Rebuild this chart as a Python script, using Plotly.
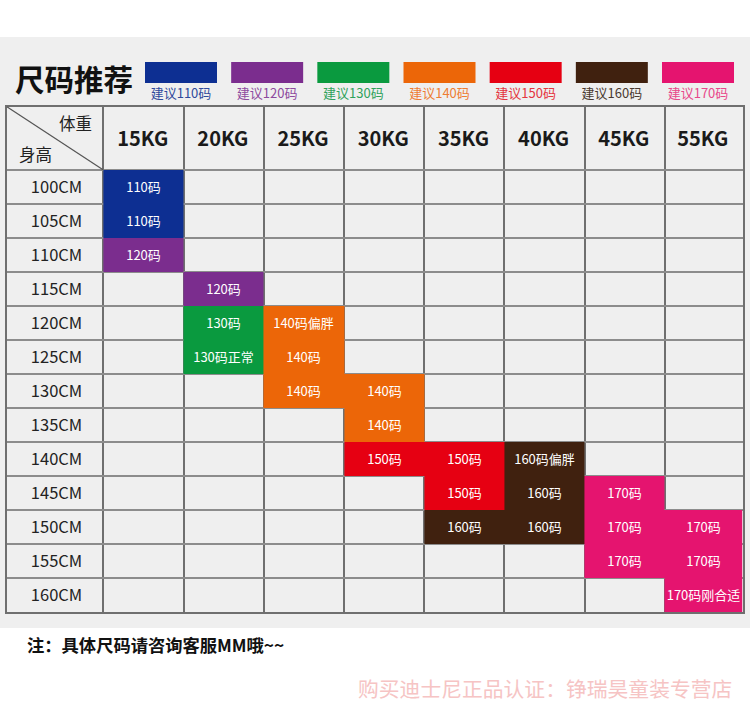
import plotly.graph_objects as go

WIDTH = 750
HEIGHT = 715

weights = ["15KG", "20KG", "25KG", "30KG", "35KG", "40KG", "45KG", "55KG"]
heights = ["100CM", "105CM", "110CM", "115CM", "120CM", "125CM", "130CM",
           "135CM", "140CM", "145CM", "150CM", "155CM", "160CM"]

sizes = ["110", "120", "130", "140", "150", "160", "170"]
size_colors = ["#0d2f92", "#7b2d8e", "#0a9a3f", "#ec6608", "#e60012", "#40210f", "#e5146f"]
legend_text_colors = ["#2f4a9c", "#8d4a9e", "#2fa25c", "#ee7d33", "#e4353f", "#4a3a30", "#e8488a"]

# one row per height, one column per weight
cell_labels = [
    ["110码", "", "", "", "", "", "", ""],
    ["110码", "", "", "", "", "", "", ""],
    ["120码", "", "", "", "", "", "", ""],
    ["", "120码", "", "", "", "", "", ""],
    ["", "130码", "140码偏胖", "", "", "", "", ""],
    ["", "130码正常", "140码", "", "", "", "", ""],
    ["", "", "140码", "140码", "", "", "", ""],
    ["", "", "", "140码", "", "", "", ""],
    ["", "", "", "150码", "150码", "160码偏胖", "", ""],
    ["", "", "", "", "150码", "160码", "170码", ""],
    ["", "", "", "", "160码", "160码", "170码", "170码"],
    ["", "", "", "", "", "", "170码", "170码"],
    ["", "", "", "", "", "", "", "170码刚合适"],
]

FONT = "Noto Sans CJK SC"
BG = "#efefef"
LINE = "#6f6f6f"

# width of the first column and height of the header row, in cell units
first_col = 96.8 / 80.1
header_row = 63.5 / 34
# the last column is a little narrower than the others
last_edge = 7.97


def px_x(px):
    return px / WIDTH


def px_y(px):
    return 1 - px / HEIGHT


def size_index(label):
    return sizes.index(label[:3]) if label else None


n_rows = len(heights)
n_cols = len(weights)
col_edges = list(range(n_cols)) + [last_edge]
row_edges = list(range(n_rows + 1))
col_centers = [(a + b) / 2 for a, b in zip(col_edges[:-1], col_edges[1:])]
row_centers = [i + 0.5 for i in range(n_rows)]

# stepped colorscale so every size gets exactly one colour
n = len(sizes)
colorscale = []
for i, color in enumerate(size_colors):
    colorscale.append([i / n, color])
    colorscale.append([(i + 1) / n, color])

fig = go.Figure()

fig.add_trace(go.Heatmap(
    x=col_edges,
    y=row_edges,
    z=[[size_index(c) for c in row] for row in cell_labels],
    text=cell_labels,
    texttemplate="%{text}",
    textfont=dict(family=FONT, size=13, color="white"),
    colorscale=colorscale,
    zmin=-0.5,
    zmax=n - 0.5,
    showscale=False,
    hoverinfo="skip",
))

# column headers
fig.add_trace(go.Scatter(
    x=[c - 0.01 for c in col_centers],
    y=[-header_row / 2 + 0.09] * n_cols,
    mode="text",
    text=["<b>%s</b>" % w for w in weights],
    textfont=dict(family=FONT, size=20, color="#1a1a1a"),
    hoverinfo="skip",
    showlegend=False,
))

# row headers
fig.add_trace(go.Scatter(
    x=[-first_col / 2 + 0.02] * n_rows,
    y=[c + 0.05 for c in row_centers],
    mode="text",
    text=heights,
    textfont=dict(family=FONT, size=16.5, color="#222222"),
    hoverinfo="skip",
    showlegend=False,
))

# legend swatches
fig.add_trace(go.Bar(
    x=sizes,
    y=[1] * n,
    width=72 / 86.17,
    marker=dict(color=size_colors, line_width=0),
    xaxis="x2",
    yaxis="y2",
    hoverinfo="skip",
    showlegend=False,
))

# legend captions under the swatches, inside the extended y2 range
fig.add_trace(go.Scatter(
    x=sizes,
    y=[-0.58] * n,
    mode="text",
    text=["建议%s码" % s for s in sizes],
    textfont=dict(family=FONT, size=13, color=legend_text_colors),
    xaxis="x2",
    yaxis="y2",
    hoverinfo="skip",
    showlegend=False,
))

fig.update_layout(
    width=WIDTH,
    height=HEIGHT,
    autosize=False,
    margin=dict(l=0, r=0, t=0, b=0),
    paper_bgcolor="white",
    plot_bgcolor=BG,
    showlegend=False,
    font=dict(family=FONT),
    xaxis=dict(
        domain=[px_x(6.5), px_x(742.5)],
        range=[-first_col, last_edge],
        showticklabels=False,
        showgrid=False,
        zeroline=False,
        ticks="",
        showline=True,
        mirror=True,
        linecolor=LINE,
        linewidth=1.5,
        minor=dict(
            tickmode="array",
            tickvals=list(range(n_cols)),
            showgrid=True,
            gridcolor=LINE,
            gridwidth=1.5,
            ticks="",
        ),
    ),
    yaxis=dict(
        domain=[px_y(612), px_y(106.5)],
        range=[n_rows, -header_row],
        showticklabels=False,
        showgrid=False,
        zeroline=False,
        ticks="",
        showline=True,
        mirror=True,
        linecolor=LINE,
        linewidth=1.5,
        minor=dict(
            tickmode="array",
            tickvals=list(range(n_rows)),
            showgrid=True,
            gridcolor="#8c8c8c",
            gridwidth=1.5,
            ticks="",
        ),
    ),
    xaxis2=dict(
        domain=[px_x(145), px_x(734)],
        anchor="y2",
        type="category",
        range=[-36 / 86.17, n - 1 + 36 / 86.17],
        visible=False,
    ),
    yaxis2=dict(
        domain=[px_y(104), px_y(62)],
        anchor="x2",
        range=[-1, 1],
        visible=False,
    ),
    shapes=[
        # grey panel behind everything
        dict(type="rect", xref="paper", yref="paper", layer="below",
             x0=0, x1=1, y0=px_y(628), y1=px_y(37),
             fillcolor=BG, line_width=0),
        # split header cell
        dict(type="line", xref="x", yref="y",
             x0=-first_col, y0=-header_row, x1=0, y1=0,
             line=dict(color="#555555", width=1.2)),
    ],
)


def add_text(text, x, y, size, color, xanchor="center"):
    fig.add_annotation(text=text, xref="paper", yref="paper",
                       x=px_x(x), y=px_y(y), xanchor=xanchor, yanchor="middle",
                       showarrow=False, font=dict(family=FONT, size=size, color=color))


add_text("<b>尺码推荐</b>", 13, 78, 29.5, "#111111", "left")
add_text("体重", 75, 123, 16.5, "#222222")
add_text("身高", 35, 154, 16.5, "#222222")
add_text("<b>注：具体尺码请咨询客服MM哦~~</b>", 25, 644.5, 17.3, "#111111", "left")
add_text("购买迪士尼正品认证：铮瑞昊童装专营店", 734, 688, 20.8, "#f6c4c4", "right")

fig.write_html("out.html", config=dict(displayModeBar=False),
               post_script="document.body.style.margin='0';")
